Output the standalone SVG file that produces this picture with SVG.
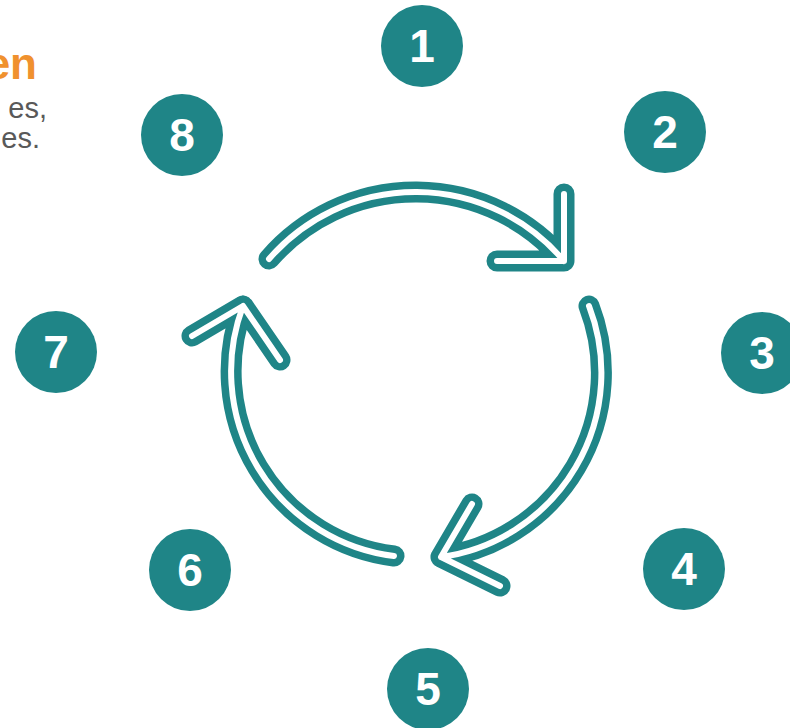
<svg xmlns="http://www.w3.org/2000/svg" width="790" height="728" viewBox="0 0 790 728">
  <style>
    .badge circle { fill: #1F8587; }
    .badge text { fill: #FFFFFF; font-family: "Liberation Sans", Arial, sans-serif; font-weight: bold; font-size: 46px; text-anchor: middle; }
    .outer { fill: none; stroke: #1F8587; stroke-width: 21; stroke-linecap: round; stroke-linejoin: round; }
    .inner { fill: none; stroke: #FFFFFF; stroke-width: 6; stroke-linecap: round; stroke-linejoin: round; }
    .title { fill: #F0912E; font-family: "Liberation Sans", Arial, sans-serif; font-weight: bold; font-size: 44px; text-anchor: end; }
    .body { fill: #595959; font-family: "Liberation Sans", Arial, sans-serif; font-size: 29px; text-anchor: end; }
  </style>
  <rect width="790" height="728" fill="#FFFFFF"/>
  <g id="caption">
    <text class="title" x="37" y="79">en</text>
    <text class="body" x="47" y="118">es,</text>
    <text class="body" x="40" y="148">es.</text>
  </g>
  <g id="connectors">
    <g id="arrow-top">
      <path class="outer" d="M269,259 A194,194 0 0 1 564,261 L564,194 M564,261 L497,261"/>
      <path class="inner" d="M269,259 A194,194 0 0 1 564,261 L564,194 M564,261 L497,261"/>
    </g>
    <g id="arrow-right">
      <path class="outer" d="M589,306 A186,186 0 0 1 441,557 L472,504 M441,557 L500,586"/>
      <path class="inner" d="M589,306 A186,186 0 0 1 441,557 L472,504 M441,557 L500,586"/>
    </g>
    <g id="arrow-left">
      <path class="outer" d="M394,556 A186,186 0 0 1 243,306 L192,336 M243,306 L280,360"/>
      <path class="inner" d="M394,556 A186,186 0 0 1 243,306 L192,336 M243,306 L280,360"/>
    </g>
  </g>
  <g id="node-1" class="badge"><circle cx="422" cy="46" r="41"/><text x="422" y="62">1</text></g>
  <g id="node-2" class="badge"><circle cx="665" cy="132" r="41"/><text x="665" y="148">2</text></g>
  <g id="node-3" class="badge"><circle cx="762" cy="353" r="41"/><text x="762" y="369">3</text></g>
  <g id="node-4" class="badge"><circle cx="684" cy="569" r="41"/><text x="684" y="585">4</text></g>
  <g id="node-5" class="badge"><circle cx="428" cy="689" r="41"/><text x="428" y="705">5</text></g>
  <g id="node-6" class="badge"><circle cx="190" cy="570" r="41"/><text x="190" y="586">6</text></g>
  <g id="node-7" class="badge"><circle cx="56" cy="352" r="41"/><text x="56" y="368">7</text></g>
  <g id="node-8" class="badge"><circle cx="182" cy="135" r="41"/><text x="182" y="151">8</text></g>
</svg>
